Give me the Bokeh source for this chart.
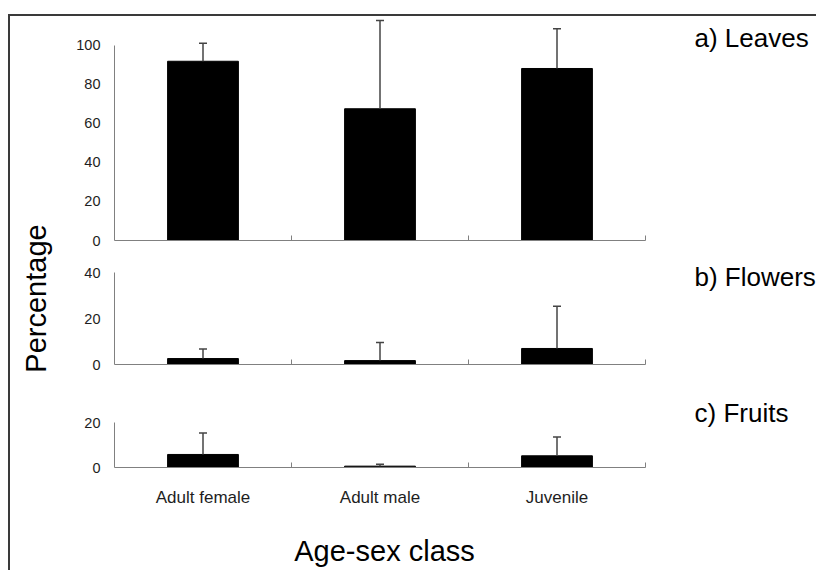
from bokeh.plotting import figure
from bokeh.models import Range1d, FixedTicker, ColumnDataSource, Whisker, TeeHead, Label
from bokeh.layouts import row, column
from bokeh.embed import file_html
from bokeh.resources import INLINE

# ---- data ----
categories = ["Adult female", "Adult male", "Juvenile"]
leaves = [91.7, 67.4, 88.0]
leaves_err = [9.2, 45.1, 20.3]
flowers = [2.6, 1.7, 7.0]
flowers_err = [4.2, 7.9, 18.5]
fruits = [5.8, 0.6, 5.2]
fruits_err = [9.6, 0.9, 8.4]
panel_titles = ["a) Leaves", "b) Flowers", "c) Fruits"]
leaves_ticks = [0, 20, 40, 60, 80, 100]
flowers_ticks = [0, 20, 40]
fruits_ticks = [0, 20]
y_label = "Percentage"
x_label = "Age-sex class"

FONT = "Liberation Sans"
AXIS_COL = "#808080"
TEXT_COL = "#1e1e1e"
ERR_COL = "#444444"

n = len(categories)
xs = [i + 0.5 for i in range(n)]
bounds_ticks = [i + 1 for i in range(n)]

FIG_W = 756
BORDER_L = 54
CAT_PX = 177.0
X_END = (FIG_W - BORDER_L) / CAT_PX
TITLE_X = 580  # screen offset from frame left


def make_panel(vals, errs, ticks, title, y_end, height, b_bot, title_y, show_x):
    p = figure(width=FIG_W, height=height, output_backend="svg", toolbar_location=None,
               x_range=Range1d(0, X_END), y_range=Range1d(0, y_end),
               min_border_left=BORDER_L, min_border_right=0,
               min_border_top=0, min_border_bottom=b_bot)
    p.outline_line_color = None
    p.grid.visible = False
    p.background_fill_color = "white"
    p.border_fill_color = "white"

    p.vbar(x=xs, top=vals, width=0.4, bottom=0, fill_color="black", line_color="black")
    src = ColumnDataSource(dict(x=xs, top=vals, upper=[v + e for v, e in zip(vals, errs)]))
    p.add_layout(Whisker(source=src, base="x", lower="top", upper="upper", dimension="height",
                         line_color=ERR_COL, line_width=1.5, level="overlay",
                         upper_head=TeeHead(size=8, line_color=ERR_COL, line_width=1.5),
                         lower_head=None))

    yax = p.yaxis[0]
    yax.ticker = FixedTicker(ticks=ticks)
    yax.bounds = (ticks[0], ticks[-1])
    yax.axis_line_color = AXIS_COL
    yax.major_tick_line_color = None
    yax.minor_tick_line_color = None
    yax.major_tick_out = 0
    yax.major_label_standoff = 14
    yax.major_label_text_font = FONT
    yax.major_label_text_font_size = "14.5px"
    yax.major_label_text_color = TEXT_COL

    xax = p.xaxis[0]
    xax.bounds = (0, n)
    xax.axis_line_color = AXIS_COL
    xax.major_tick_line_color = None
    xax.minor_tick_line_color = AXIS_COL
    xax.minor_tick_in = 5
    xax.minor_tick_out = 0
    xax.major_tick_out = 0
    xax.major_tick_in = 0
    if show_x:
        xax.ticker = FixedTicker(ticks=xs, minor_ticks=bounds_ticks)
        xax.major_label_overrides = {x: c for x, c in zip(xs, categories)}
        xax.major_label_text_font = FONT
        xax.major_label_text_font_size = "17px"
        xax.major_label_text_color = TEXT_COL
        xax.major_label_standoff = 20
    else:
        xax.ticker = FixedTicker(ticks=[], minor_ticks=bounds_ticks)

    p.add_layout(Label(x=TITLE_X, y=title_y, x_units="screen", y_units="data", text=title,
                       text_font=FONT, text_font_size="26px", text_color="black",
                       text_baseline="alphabetic", text_align="left"))
    return p


fa = make_panel(leaves, leaves_err, leaves_ticks, panel_titles[0], 114.6, 234, 10, 103.8, False)
fb = make_panel(flowers, flowers_err, flowers_ticks, panel_titles[1], 49.8, 130, 16, 38.2, False)
fc = make_panel(fruits, fruits_err, fruits_ticks, panel_titles[2], 38.7, 140, 53, 24.4, True)


def text_fig(width, height):
    f = figure(width=width, height=height, output_backend="svg", toolbar_location=None,
               x_range=Range1d(0, 1), y_range=Range1d(0, 1), x_axis_type=None, y_axis_type=None,
               min_border=0, min_border_left=0, min_border_right=0,
               min_border_top=0, min_border_bottom=0)
    f.outline_line_color = None
    f.grid.visible = False
    return f


fx = text_fig(FIG_W, 50)
fx.add_layout(Label(x=270, y=0.4, x_units="screen", y_units="data", text=x_label,
                    text_font=FONT, text_font_size="29px", text_color="black",
                    text_align="center", text_baseline="middle"))

fl = text_fig(50, 554)
fl.add_layout(Label(x=25, y=0.491, x_units="screen", y_units="data", text=y_label,
                    text_font=FONT, text_font_size="29px", text_color="black",
                    angle=1.5707963, text_align="center", text_baseline="middle"))

layout = row(fl, column(fa, fb, fc, fx),
             styles={"border-top": "2px solid #3a3a3a", "border-left": "2px solid #3a3a3a",
                     "margin-top": "14px", "margin-left": "8px"})

open("out.html", "w").write(file_html(layout, INLINE))
